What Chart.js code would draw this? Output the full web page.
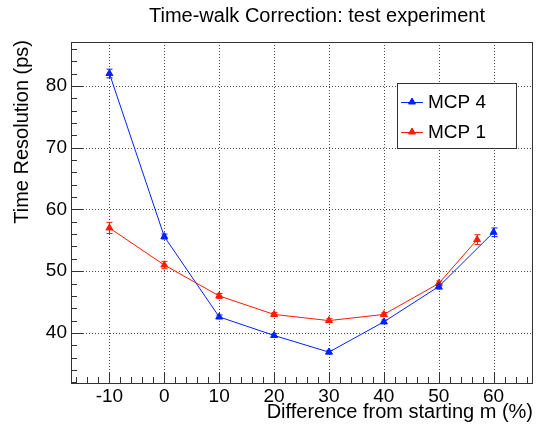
<!DOCTYPE html>
<html>
<head>
<meta charset="utf-8">
<script src="https://cdn.jsdelivr.net/npm/chart.js@4/dist/chart.umd.min.js"></script>
<style>
html, body { margin: 0; padding: 0; background: #fff; }
</style>
</head>
<body>
<canvas id="myChart" width="537" height="432"></canvas>
<script>
// data
var xMcp4 = [-10, 0, 10, 20, 30, 40, 50, 60];
var yMcp4 = [82.0, 55.6, 42.6, 39.6, 36.9, 41.8, 47.5, 56.3];
var eMcp4 = [0.7, 0.4, 0.3, 0.3, 0.3, 0.3, 0.4, 0.7];
var xMcp1 = [-10, 0, 10, 20, 30, 40, 50, 57];
var yMcp1 = [57.0, 51.0, 46.0, 43.0, 42.0, 43.0, 48.0, 55.1];
var eMcp1 = [0.9, 0.6, 0.4, 0.3, 0.3, 0.3, 0.4, 0.8];
var xTicks = [-10, 0, 10, 20, 30, 40, 50, 60];
var yTicks = [40, 50, 60, 70, 80];

var FONT = "'Liberation Sans', Arial, sans-serif";
var BLUE = '#0022ff';
var RED = '#ff1a00';

function pts(xs, ys) {
    return xs.map(function (x, i) { return { x: x, y: ys[i] }; });
}

function line(ctx, x1, y1, x2, y2) {
    ctx.beginPath();
    ctx.moveTo(x1, y1);
    ctx.lineTo(x2, y2);
    ctx.stroke();
}

var rootStyle = {
    id: 'rootStyle',
    beforeDatasetsDraw: function (chart) {
        var ctx = chart.ctx, a = chart.chartArea;
        var xs = chart.scales.x, ys = chart.scales.y;
        ctx.save();

        // dotted grid
        ctx.strokeStyle = 'rgba(0,0,0,0.7)';
        ctx.lineWidth = 1;
        ctx.setLineDash([1, 2]);
        xTicks.forEach(function (v) {
            var px = Math.round(xs.getPixelForValue(v)) + 0.5;
            line(ctx, px, a.top, px, a.bottom);
        });
        yTicks.forEach(function (v) {
            var py = Math.round(ys.getPixelForValue(v)) + 0.5;
            line(ctx, a.left, py, a.right, py);
        });
        ctx.setLineDash([]);

        // frame
        ctx.strokeStyle = '#333';
        ctx.strokeRect(a.left + 0.5, a.top + 0.5, a.right - a.left, a.bottom - a.top);

        // ticks inside the frame
        var v, px, py, major;
        for (v = Math.ceil(xs.min / 2) * 2; v <= xs.max; v += 2) {
            major = v % 10 === 0;
            px = Math.round(xs.getPixelForValue(v)) + 0.5;
            line(ctx, px, a.bottom, px, a.bottom - (major ? 11 : 6));
        }
        for (v = Math.ceil(ys.min / 2) * 2; v <= ys.max; v += 2) {
            major = v % 10 === 0;
            py = Math.round(ys.getPixelForValue(v)) + 0.5;
            line(ctx, a.left, py, a.left + (major ? 12 : 6), py);
        }

        // error bars
        [[xMcp4, yMcp4, eMcp4, BLUE], [xMcp1, yMcp1, eMcp1, RED]].forEach(function (s) {
            ctx.strokeStyle = s[3];
            s[0].forEach(function (x, i) {
                var cx = Math.round(xs.getPixelForValue(x)) + 0.5;
                var top = ys.getPixelForValue(s[1][i] + s[2][i]);
                var bot = ys.getPixelForValue(s[1][i] - s[2][i]);
                line(ctx, cx, top, cx, bot);
                line(ctx, cx - 3, top, cx + 3, top);
                line(ctx, cx - 3, bot, cx + 3, bot);
            });
        });
        ctx.restore();
    },
    afterDraw: function (chart) {
        var ctx = chart.ctx;
        ctx.save();
        ctx.fillStyle = '#000';
        ctx.textBaseline = 'middle';

        // title
        ctx.font = '20px ' + FONT;
        ctx.textAlign = 'center';
        ctx.fillText('Time-walk Correction: test experiment', 317, 16);

        // x title
        ctx.textAlign = 'right';
        ctx.fillText('Difference from starting m (%)', 533, 412);

        // y title
        ctx.save();
        ctx.translate(22, 40);
        ctx.rotate(-Math.PI / 2);
        ctx.textAlign = 'right';
        ctx.fillText('Time Resolution (ps)', 0, 0);
        ctx.restore();

        // legend
        ctx.fillStyle = '#fff';
        ctx.fillRect(397, 83, 119, 65);
        ctx.strokeStyle = '#333';
        ctx.lineWidth = 1;
        ctx.strokeRect(397.5, 83.5, 119, 65);
        var items = [['MCP 4', BLUE, 102], ['MCP 1', RED, 132]];
        items.forEach(function (it) {
            ctx.strokeStyle = it[1];
            ctx.fillStyle = it[1];
            line(ctx, 401, it[2] + 0.5, 423, it[2] + 0.5);
            Chart.helpers.drawPoint(ctx, { pointStyle: 'triangle', radius: 4, borderWidth: 1 }, 412, it[2]);
            ctx.fillStyle = '#000';
            ctx.font = '19px ' + FONT;
            ctx.textAlign = 'left';
            ctx.fillText(it[0], 428, it[2] + 1);
        });
        ctx.restore();
    }
};

var ctx = document.getElementById('myChart').getContext('2d');
var myChart = new Chart(ctx, {
    type: 'scatter',
    data: {
        datasets: [{
            label: 'MCP 4',
            data: pts(xMcp4, yMcp4),
            showLine: true,
            borderColor: BLUE,
            backgroundColor: BLUE,
            borderWidth: 1,
            pointStyle: 'triangle',
            pointRadius: 4,
            pointBorderWidth: 1
        }, {
            label: 'MCP 1',
            data: pts(xMcp1, yMcp1),
            showLine: true,
            borderColor: RED,
            backgroundColor: RED,
            borderWidth: 1,
            pointStyle: 'triangle',
            pointRadius: 4,
            pointBorderWidth: 1
        }]
    },
    options: {
        responsive: false,
        animation: false,
        devicePixelRatio: 1,
        layout: { padding: { top: 42, left: 0, right: 0, bottom: 0 } },
        plugins: {
            legend: { display: false },
            tooltip: { enabled: false }
        },
        scales: {
            x: {
                type: 'linear',
                min: -17,
                max: 67,
                grid: { display: false, drawTicks: false },
                border: { display: false },
                afterBuildTicks: function (s) { s.ticks = xTicks.map(function (v) { return { value: v }; }); },
                afterFit: function (s) { s.height = 49; },
                ticks: { font: { family: FONT, size: 19 }, color: '#000', padding: 2, maxRotation: 0 }
            },
            y: {
                type: 'linear',
                min: 31.9,
                max: 87.1,
                grid: { display: false, drawTicks: false },
                border: { display: false },
                afterBuildTicks: function (s) { s.ticks = yTicks.map(function (v) { return { value: v }; }); },
                afterFit: function (s) { s.width = 71; },
                ticks: { font: { family: FONT, size: 19 }, color: '#000', padding: 4 }
            }
        }
    },
    plugins: [rootStyle]
});
</script>
</body>
</html>
